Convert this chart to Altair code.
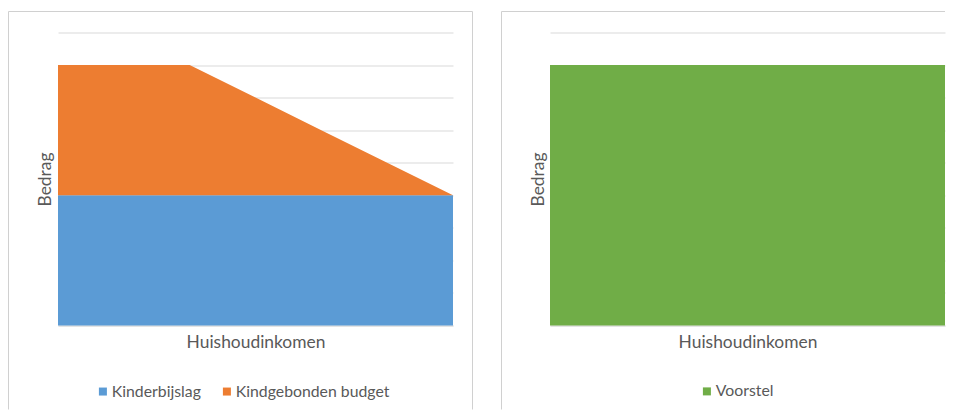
import altair as alt
import pandas as pd

# ---- data ----
inkomen = [0, 1, 2, 3]
kinderbijslag = [4, 4, 4, 4]
kindgebonden_budget = [4, 4, 2, 0]
voorstel = [8, 8, 8, 8]
series_left = ["Kinderbijslag", "Kindgebonden budget"]
series_right = ["Voorstel"]
colors_left = ["#5b9bd5", "#ed7d31"]
colors_right = ["#70ad47"]
y_ticks = list(range(0, 10))

FONT = "Lato"
TXT = "#595959"
GRID = "#d9d9d9"
BORDER = "#d0d0d0"
W, H = 395, 293

rows = []
for i, x in enumerate(inkomen):
    rows.append({"x": x, "value": kinderbijslag[i], "series": series_left[0], "order": 0})
    rows.append({"x": x, "value": kindgebonden_budget[i], "series": series_left[1], "order": 1})
df_left = pd.DataFrame(rows)
df_right = pd.DataFrame({"x": inkomen, "value": voorstel, "series": [series_right[0]] * len(inkomen)})
one = pd.DataFrame({"d": [0]})


def axes(title_x):
    x_enc = alt.X(
        "x:Q",
        scale=alt.Scale(domain=[0, 3], nice=False, zero=False),
        axis=alt.Axis(
            title="Huishoudinkomen", labels=False, ticks=False, grid=False,
            domainColor=GRID, titleFont=FONT, titleFontSize=17.4, titleFontWeight="normal",
            titleColor=TXT, titleBaseline="alphabetic", titleY=22,
        ),
    )
    y_enc = alt.Y(
        "value:Q",
        stack="zero",
        scale=alt.Scale(domain=[0, 9], nice=False),
        axis=alt.Axis(
            title="Bedrag", values=y_ticks, labels=False, ticks=False, domain=False,
            grid=True, gridColor=GRID, gridWidth=1.2,
            titleFont=FONT, titleFontSize=17.4, titleFontWeight="normal", titleColor=TXT,
            titleAngle=270, titleBaseline="middle", titleX=title_x, titleY=H / 2,
        ),
    )
    return x_enc, y_enc


def legend(lx, ly):
    return alt.Legend(
        title=None, orient="none", legendX=lx, legendY=ly, direction="horizontal",
        symbolType="square", symbolSize=64, symbolStrokeWidth=0, symbolOpacity=1,
        labelFont=FONT, labelFontSize=15.8, labelColor=TXT, labelOffset=1,
        columnPadding=18, padding=0,
    )


BOTTOM = 377


def borders(left_x, right_x, top_right):
    layers = [
        alt.Chart(one).mark_rule(color=BORDER, strokeWidth=1).encode(
            x=alt.value(left_x), y=alt.value(-21), y2=alt.value(BOTTOM)),
        alt.Chart(one).mark_rule(color=BORDER, strokeWidth=1).encode(
            x=alt.value(left_x), x2=alt.value(top_right), y=alt.value(-21)),
    ]
    if right_x is not None:
        layers.append(alt.Chart(one).mark_rule(color=BORDER, strokeWidth=1).encode(
            x=alt.value(right_x), y=alt.value(-21), y2=alt.value(BOTTOM)))
    return layers


xl, yl = axes(-13)
left_area = alt.Chart(df_left).mark_area(opacity=1, interpolate="linear").encode(
    x=xl, y=yl,
    color=alt.Color("series:N", scale=alt.Scale(domain=series_left, range=colors_left),
                    legend=legend(37, 351)),
    order=alt.Order("order:Q"),
)
left = alt.layer(left_area, *borders(-49.5, 414.5, 414.5)).properties(width=W, height=H)

xr, yr = axes(-11.5)
right_area = alt.Chart(df_right).mark_area(opacity=1, interpolate="linear").encode(
    x=xr, y=yr,
    color=alt.Color("series:N", scale=alt.Scale(domain=series_right, range=colors_right),
                    legend=legend(149, 351)),
)
right = alt.layer(right_area, *borders(-48.5, None, 395)).properties(width=W, height=H)

chart = alt.hconcat(left, right, spacing=97, bounds="flush").resolve_scale(
    color="independent"
).resolve_legend(color="independent").properties(
    padding={"left": 0, "top": 2.5, "right": 0, "bottom": 0}
).configure(background="white").configure_view(stroke="transparent", strokeWidth=0)

chart.save("out.html", embed_options={"renderer": "svg", "actions": False})
